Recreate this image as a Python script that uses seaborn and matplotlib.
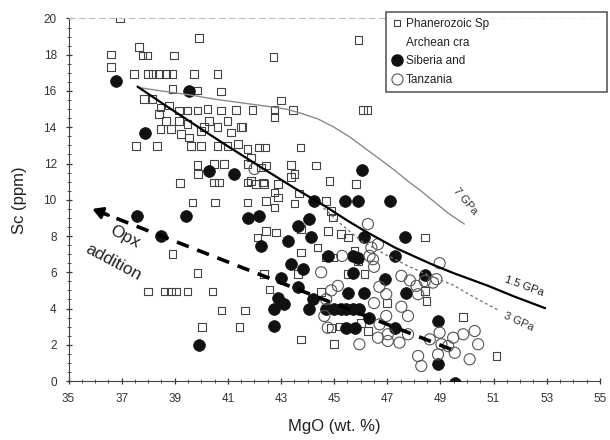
import numpy as np
import pandas as pd
import matplotlib
matplotlib.use('Agg')
import matplotlib.pyplot as plt
import seaborn as sns
from matplotlib.lines import Line2D
from matplotlib.ticker import MultipleLocator, FixedLocator

# Phanerozoic spinel peridotites (open squares)
phan_mgo = [36.94, 39.92, 36.61, 36.61, 37.65, 37.78, 37.97, 38.97, 42.72, 45.92,
            37.46, 37.99, 38.16, 38.41, 38.66, 38.91, 39.73, 40.61, 40.74, 38.91, 39.86,
            40.23, 40.74, 41.30, 41.93, 42.75, 43.44, 46.08, 46.25, 43.00, 42.75, 41.55,
            37.53, 38.32, 37.84, 38.16, 38.47, 38.78, 38.41, 38.66, 38.47, 38.85, 39.16,
            39.48, 39.23, 39.54, 39.60, 39.98, 39.98, 40.29, 40.61, 40.99, 41.11, 40.61,
            40.99, 41.37, 41.74, 41.87, 39.86, 39.48, 39.16, 42.18, 40.10, 41.49,
            39.20, 39.86, 39.88, 40.48, 40.67, 41.87, 42.06, 42.40, 43.73, 44.32, 43.38,
            43.50, 44.82, 45.83, 42.43, 42.37, 42.75, 43.67, 40.48, 40.86, 41.74, 42.25,
            41.74, 42.31, 42.88, 43.38, 39.67, 40.51, 41.74, 42.43, 42.88, 42.75, 44.70,
            44.89, 43.50, 44.95, 42.43, 42.81, 42.12, 43.75, 44.76, 45.26, 45.52, 44.38,
            44.70, 44.95, 45.77, 45.89, 43.75, 43.63, 42.37, 42.56, 45.52, 46.14, 48.41,
            48.41, 48.47, 38.91, 39.86, 37.99, 38.62, 38.85, 39.04, 39.48, 40.42, 40.76,
            41.64, 40.02, 41.43, 44.82, 44.89, 43.75, 45.00, 46.27, 49.86, 51.11, 46.00,
            47.00, 44.50, 45.20]
phan_sc = [20.00, 18.93, 18.01, 17.31, 18.42, 17.96, 17.96, 17.96, 17.86, 18.82,
           16.94, 16.94, 16.94, 16.94, 16.94, 16.94, 16.94, 16.94, 15.98, 16.11, 16.02,
           15.00, 14.92, 14.96, 14.96, 14.96, 14.96, 14.96, 14.96, 15.47, 14.55, 14.00,
           12.98, 12.98, 15.56, 15.56, 15.10, 15.19, 14.73, 14.36, 13.90, 13.90, 14.36,
           14.18, 13.63, 13.44, 12.98, 12.98, 13.80, 14.36, 14.00, 14.36, 13.72, 12.98,
           12.98, 13.07, 12.80, 12.34, 14.92, 14.92, 14.92, 12.89, 14.00, 14.00,
           10.92, 11.93, 11.42, 10.96, 10.96, 11.05, 10.86, 12.89, 12.89, 11.88, 11.93,
           11.42, 11.05, 10.86, 11.88, 10.86, 10.40, 10.35, 11.97, 11.97, 11.97, 11.79,
           10.96, 10.96, 10.86, 11.24, 9.85, 9.85, 9.85, 9.94, 10.13, 9.58, 9.94,
           9.39, 9.80, 9.02, 8.29, 8.19, 7.92, 8.38, 8.29, 8.10, 7.92, 7.36,
           6.81, 6.81, 7.18, 6.63, 7.09, 5.89, 5.89, 5.06, 5.89, 5.89, 7.92,
           4.97, 4.42, 7.00, 5.95, 4.93, 4.93, 4.93, 4.93, 4.93, 4.93, 3.90,
           3.90, 2.98, 2.98, 3.96, 2.94, 2.30, 2.03, 2.76, 3.54, 1.38, 3.20,
           4.30, 4.90, 3.00]

# Archean cratons: Siberia and ... (filled circles)
sib_mgo = [36.77, 39.54, 37.87, 40.29, 41.24, 46.05, 37.59, 39.42, 38.47,
           41.74, 42.18, 42.25, 43.25, 43.63, 44.07, 44.13, 44.26, 45.39, 45.89, 47.09,
           44.76, 45.70, 45.89, 46.14, 47.65, 47.28, 43.38, 43.82, 43.00, 43.63, 45.70,
           46.90, 48.41, 45.52, 46.14, 47.72, 42.88, 43.12, 42.75, 44.07, 44.20,
           44.70, 45.00, 45.25, 45.45, 45.70, 45.95, 46.33, 42.75, 45.45, 45.77, 47.28,
           39.92, 48.91, 48.91, 49.54]
sib_sc = [16.57, 15.98, 13.66, 11.60, 11.42, 11.66, 9.12, 9.08, 8.01,
          9.02, 9.10, 7.46, 7.73, 8.56, 8.93, 7.92, 9.94, 9.94, 9.94, 9.94,
          6.91, 6.91, 6.81, 7.92, 7.92, 6.91, 6.45, 6.17, 5.71, 5.16, 5.98,
          5.62, 5.86, 4.88, 4.88, 4.88, 4.60, 4.24, 3.96, 3.96, 4.51,
          3.96, 3.96, 3.96, 3.96, 3.96, 3.96, 3.50, 3.04, 2.94, 2.94, 2.94,
          1.97, 3.31, 0.92, -0.10]

# Tanzania (open circles)
tan_mgo = [42.00, 46.27, 46.40, 46.33, 46.46, 45.30, 44.51, 45.14, 44.89, 44.70,
           44.63, 44.76, 45.95, 46.96, 47.53, 47.85, 48.10, 48.16, 46.96, 47.53,
           47.78, 48.41, 48.72, 48.97, 48.85, 46.71, 47.02, 47.02, 47.46, 47.78,
           46.65, 48.16, 48.28, 48.60, 48.97, 49.04, 48.91, 49.29, 49.48, 49.54,
           49.86, 50.29, 50.42, 50.10, 46.65, 46.50, 46.70, 46.50]
tan_sc = [11.70, 8.66, 7.36, 6.91, 6.72, 6.90, 6.00, 5.25, 5.00, 4.51,
          3.59, 2.94, 2.03, 4.79, 5.80, 5.55, 5.25, 4.79, 3.59, 4.10,
          3.59, 5.52, 5.43, 6.50, 5.62, 3.13, 2.58, 2.21, 2.12, 2.58,
          2.39, 1.38, 0.83, 2.30, 2.67, 2.03, 1.47, 1.93, 2.39, 1.56,
          2.58, 2.76, 2.03, 1.20, 7.55, 6.30, 5.20, 4.30]

# melting model curves
gpa15_mgo = [37.6, 38.5, 40.0, 41.0, 42.25, 43.5, 44.63, 45.5, 46.14, 47.3,
             48.66, 49.5, 50.8, 51.8, 52.94]
gpa15_sc = [16.24, 15.35, 13.9, 12.95, 11.79, 10.65, 9.67, 8.85, 8.29, 7.35,
            6.45, 5.95, 5.25, 4.65, 4.02]
gpa3_mgo = [44.6, 45.3, 46.02, 46.9, 47.78, 48.6, 49.42, 50.3, 51.23]
gpa3_sc = [9.55, 8.6, 7.73, 7.0, 6.35, 5.8, 5.34, 4.6, 3.87]
gpa7_mgo = [37.6, 38.5, 39.5, 40.5, 41.5, 42.5, 43.2, 43.8, 44.4, 45.0, 45.6,
            46.2, 46.8, 47.3, 47.8, 48.3, 48.8, 49.3, 49.9]
gpa7_sc = [16.2, 16.0, 15.8, 15.55, 15.35, 15.15, 15.0, 14.75, 14.45, 14.0, 13.45,
           12.8, 12.15, 11.6, 11.0, 10.45, 9.85, 9.25, 8.66]

# Opx addition trend (tail -> head)
opx_mgo = [49.4, 35.8]
opx_sc = [1.75, 9.55]

sns.set_style('ticks')
plt.rcParams['font.family'] = ['Liberation Sans', 'DejaVu Sans']

fig = plt.figure(figsize=(6.1, 4.4), dpi=100)
ax = fig.add_axes([0.1123, 0.134, 0.871, 0.824])

sns.scatterplot(x=phan_mgo, y=phan_sc, marker='s', s=30, facecolor='none',
                edgecolor='#444444', linewidth=0.8, ax=ax, zorder=2)
sns.scatterplot(x=sib_mgo, y=sib_sc, marker='o', s=72, color='#111111',
                edgecolor='#111111', linewidth=0.5, ax=ax, zorder=3)
sns.scatterplot(x=tan_mgo, y=tan_sc, marker='o', s=64, facecolor='none',
                edgecolor='#555555', linewidth=0.8, ax=ax, zorder=3)

sns.lineplot(x=gpa7_mgo, y=gpa7_sc, sort=False, estimator=None, color='#8a8a8a',
             linewidth=1.0, ax=ax, zorder=4)
sns.lineplot(x=gpa3_mgo, y=gpa3_sc, sort=False, estimator=None, color='#777777',
             linewidth=1.0, linestyle=(0, (2, 2)), ax=ax, zorder=4)
sns.lineplot(x=gpa15_mgo, y=gpa15_sc, sort=False, estimator=None, color='black',
             linewidth=1.6, ax=ax, zorder=5)

# dashed arrow for opx addition
ax.plot(opx_mgo, opx_sc, color='black', linewidth=2.6, linestyle=(0, (3.5, 2.5)), zorder=5)
ax.annotate('', xy=(opx_mgo[1], opx_sc[1]), xytext=(36.6, opx_sc[1] - 0.46),
            arrowprops=dict(arrowstyle='-|>,head_length=0.6,head_width=0.35',
                            color='black', lw=2.2), zorder=6)

ax.text(37.1, 7.95, 'Opx', fontsize=12.5, rotation=-28, ha='center', va='center', color='#222')
ax.text(36.7, 6.55, 'addition', fontsize=12.5, rotation=-28, ha='center', va='center', color='#222')
ax.text(49.95, 9.9, '7 GPa', fontsize=8, rotation=-50, ha='center', va='center', color='#333')
ax.text(52.15, 5.25, '1.5 GPa', fontsize=8, rotation=-20, ha='center', va='center', color='#222')
ax.text(51.95, 3.3, '3 GPa', fontsize=8, rotation=-24, ha='center', va='center', color='#333')

ax.set_xlim(35, 55)
ax.set_ylim(0, 20)
ax.xaxis.set_major_locator(FixedLocator(np.arange(35, 56, 2)))
ax.xaxis.set_minor_locator(MultipleLocator(0.5))
ax.yaxis.set_major_locator(MultipleLocator(2))
ax.yaxis.set_minor_locator(MultipleLocator(0.5))
ax.tick_params(which='major', direction='inout', length=5, width=0.9, labelsize=8.5,
               colors='#333333', pad=6)
ax.tick_params(which='minor', direction='inout', length=3, width=0.7, colors='#555555')
ax.set_xlabel('MgO (wt. %)', fontsize=12, color='#222', labelpad=10)
ax.set_ylabel('Sc (ppm)', fontsize=12, color='#222', labelpad=12)

ax.spines['right'].set_visible(False)
ax.spines['top'].set_color('#bbbbbb')
ax.spines['top'].set_linestyle((0, (5, 4)))
ax.spines['top'].set_linewidth(0.8)
ax.spines['left'].set_color('#444444')
ax.spines['bottom'].set_color('#444444')

handles = [
    Line2D([], [], marker='s', markersize=4.5, linestyle='none', markerfacecolor='none',
           markeredgecolor='#444444', markeredgewidth=0.8),
    Line2D([], [], linestyle='none'),
    Line2D([], [], marker='o', markersize=8, linestyle='none', color='#111111'),
    Line2D([], [], marker='o', markersize=8, linestyle='none', markerfacecolor='none',
           markeredgecolor='#555555', markeredgewidth=0.8),
]
labels = ['Phanerozoic Sp', 'Archean cra', 'Siberia and', 'Tanzania']
leg = ax.legend(handles, labels, loc='upper left', mode='expand',
                bbox_to_anchor=(0.633, 0.795, 0.362, 0.178), bbox_transform=fig.transFigure,
                fontsize=8.5, frameon=True, fancybox=False, handlelength=0.8,
                handletextpad=0.35, labelspacing=0.55, borderpad=0.55, borderaxespad=0)
leg.get_frame().set_edgecolor('#333333')
leg.get_frame().set_linewidth(1.2)
for t in leg.get_texts():
    t.set_color('#222222')

fig.savefig('out.png', dpi=100, facecolor='white')
